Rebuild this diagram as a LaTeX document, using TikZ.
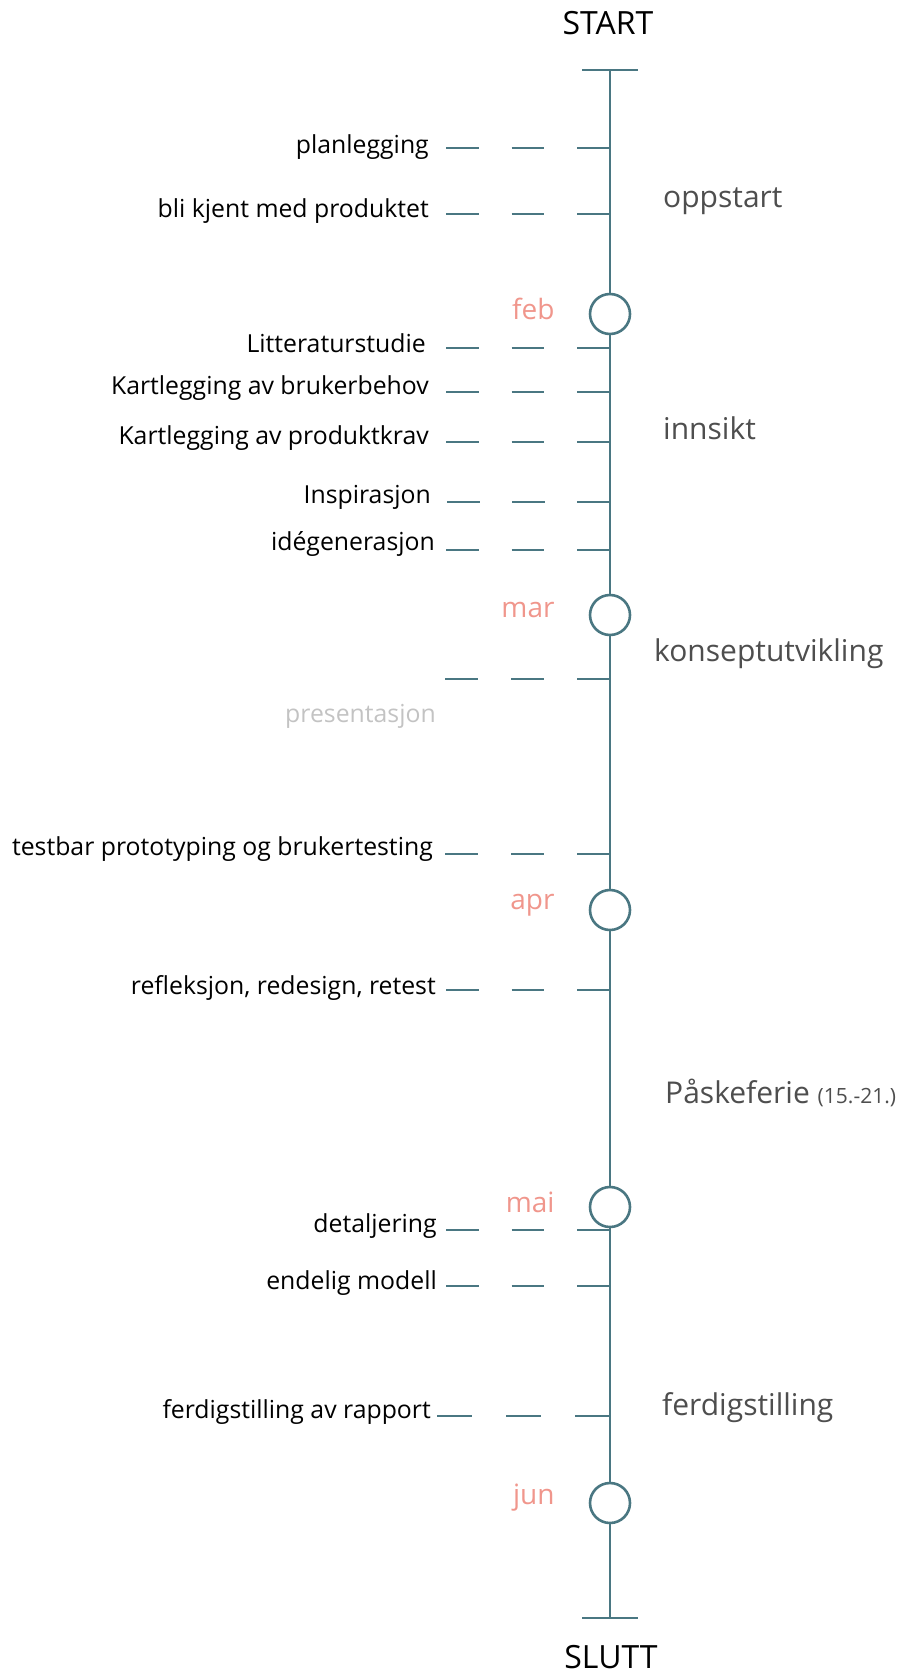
\documentclass[tikz,border=0pt]{standalone}
\usepackage{fontspec}
\setmainfont{Open Sans}
\usetikzlibrary{positioning}
\definecolor{spinecol}{RGB}{74,119,130}
\definecolor{salmon}{RGB}{240,150,140}
\definecolor{phasegray}{RGB}{78,78,78}
\definecolor{lightgray}{RGB}{195,195,195}

\begin{document}
\begin{tikzpicture}[x=1pt, y=-1pt,
	spine/.style={draw=spinecol, line width=2.6pt},
	month/.style={circle, draw=spinecol, line width=2.6pt, fill=white, minimum size=40pt, inner sep=0pt},
	mname/.style={text=salmon, inner sep=0pt, font=\fontsize{28}{30}\selectfont},
	task/.style={anchor=base east, inner sep=0pt, font=\fontsize{24.8}{28}\selectfont},
	phase/.style={anchor=west, inner sep=0pt, text=phasegray, font=\fontsize{30}{34}\selectfont},
	endlabel/.style={anchor=base, inner sep=0pt, font=\fontsize{32}{36}\selectfont}]
	\useasboundingbox (0,0) rectangle (906,1677);

	% main line
	\coordinate (top) at (610,70);
	\coordinate (bot) at (610,1618);
	\draw[spine] (top) -- (bot);
	\draw[spine] ([xshift=-28pt]top) -- ([xshift=28pt]top);
	\draw[spine] ([xshift=-28pt]bot) -- ([xshift=28pt]bot);
	\node[endlabel] (start) at (608,35) {START};
	\node[endlabel] (slutt) at (611,1668) {SLUTT};

	% tasks
	\foreach \n/\y/\x/\lx/\by/\txt in {
		plan/148/446/429/154/planlegging,
		kjent/214/446/429/218/bli kjent med produktet,
		litt/348/446/426/352/Litteraturstudie,
		bruk/392/446/429/394/Kartlegging av brukerbehov,
		krav/442/446/429/444/Kartlegging av produktkrav,
		insp/502/447/431/503/Inspirasjon,
		ide/550/446/435/550/idégenerasjon,
		test/854/445/433/855/testbar prototyping og brukertesting,
		refl/990/446/436/994/{refleksjon, redesign, retest},
		detalj/1230/446/437/1232/detaljering,
		endelig/1286/446/437/1289/endelig modell,
		rapport/1416/437/431/1418/ferdigstilling av rapport}{
		\pgfmathsetmacro\seg{(610-\x)/5}
		\coordinate (\n-a) at (\x,\y);
		\coordinate (\n-b) at (610,\y);
		\draw[spine, dash pattern=on \seg pt off \seg pt] (\n-a) -- (\n-b);
		\node[task] (\n) at (\lx,\by) {\txt};
	}
	% presentasjon
	\coordinate (pres-a) at (445,679);
	\coordinate (pres-b) at (610,679);
	\draw[spine, dash pattern=on 33pt off 33pt] (pres-a) -- (pres-b);
	\node[task, text=lightgray] (pres) at (436,722) {presentasjon};

	% months
	\foreach \n/\y in {feb/314, mar/615, apr/910, mai/1207, jun/1503}{
		\node[month] (\n) at (610,\y) {};
		\node[mname, left=34pt of \n, yshift=5pt] (\n-lbl) {\n};
	}

	% phases
	\node[phase] (oppstart) at (663,201) {oppstart};
	\node[phase] (innsikt) at (663,428) {innsikt};
	\node[phase] (konsept) at (654,654) {konseptutvikling};
	\node[phase] (pask) at (665,1093) {Påskeferie {\fontsize{21}{24}\selectfont(15.-21.)}};
	\node[phase] (ferdig) at (662,1408) {ferdigstilling};
\end{tikzpicture}
\end{document}
